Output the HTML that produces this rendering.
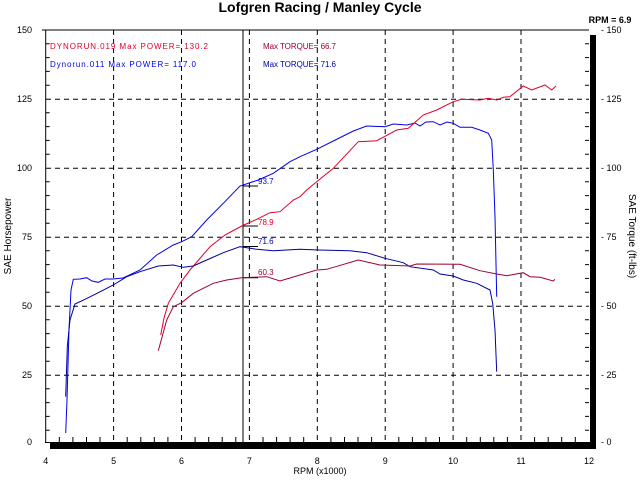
<!DOCTYPE html>
<html><head><meta charset="utf-8"><style>
html,body{margin:0;padding:0;background:#fff;}
svg{display:block;font-family:"Liberation Sans",sans-serif;}
</style></head><body>
<svg width="640" height="480" viewBox="0 0 640 480" xmlns="http://www.w3.org/2000/svg">
<rect width="640" height="480" fill="#fff"/>
<text x="320" y="12" font-size="14" font-weight="bold" text-anchor="middle">Lofgren Racing / Manley Cycle</text>
<text x="610" y="23" font-size="9" font-weight="bold" text-anchor="middle">RPM = 6.9</text>
<g stroke="#000" stroke-width="1" stroke-dasharray="5,4" fill="none">
<line x1="113.6" y1="30" x2="113.6" y2="442"/><line x1="181.5" y1="30" x2="181.5" y2="442"/>
<line x1="249.4" y1="30" x2="249.4" y2="442"/><line x1="317.3" y1="30" x2="317.3" y2="442"/>
<line x1="385.2" y1="30" x2="385.2" y2="442"/><line x1="453.1" y1="30" x2="453.1" y2="442"/>
<line x1="521" y1="30" x2="521" y2="442"/>
<line x1="46" y1="99.3" x2="589" y2="99.3"/><line x1="46" y1="168.3" x2="589" y2="168.3"/>
<line x1="46" y1="237.3" x2="589" y2="237.3"/><line x1="46" y1="306.3" x2="589" y2="306.3"/>
<line x1="46" y1="375.3" x2="589" y2="375.3"/>
</g>
<line x1="45.7" y1="30" x2="45.7" y2="443" stroke="#000"/>
<line x1="42" y1="30" x2="589" y2="30" stroke="#000"/>
<line x1="45" y1="442.5" x2="590" y2="442.5" stroke="#000"/>
<rect x="50" y="443" width="546" height="6" fill="#000"/>
<rect x="590" y="35" width="6" height="414" fill="#000"/>
<g stroke="#000" stroke-width="1">
<path d="M45.7 430.2h4M45.7 416.4h4M45.7 402.6h4M45.7 388.8h4M45.7 361.2h4M45.7 347.4h4M45.7 333.6h4M45.7 319.8h4M45.7 292.2h4M45.7 278.4h4M45.7 264.6h4M45.7 250.8h4M45.7 223.2h4M45.7 209.4h4M45.7 195.6h4M45.7 181.8h4M45.7 154.2h4M45.7 140.4h4M45.7 126.6h4M45.7 112.8h4M45.7 85.2h4M45.7 71.4h4M45.7 57.6h4M45.7 43.8h4"/>
<path d="M589 430.2h-4M589 416.4h-4M589 402.6h-4M589 388.8h-4M589 361.2h-4M589 347.4h-4M589 333.6h-4M589 319.8h-4M589 292.2h-4M589 278.4h-4M589 264.6h-4M589 250.8h-4M589 223.2h-4M589 209.4h-4M589 195.6h-4M589 181.8h-4M589 154.2h-4M589 140.4h-4M589 126.6h-4M589 112.8h-4M589 85.2h-4M589 71.4h-4M589 57.6h-4M589 43.8h-4"/>
<path d="M59.3 442v-5M72.9 442v-5M86.5 442v-5M100 442v-5M127.2 442v-5M140.8 442v-5M154.3 442v-5M167.9 442v-5M195.1 442v-5M208.7 442v-5M222.2 442v-5M235.8 442v-5M263 442v-5M276.6 442v-5M290.1 442v-5M303.7 442v-5M330.9 442v-5M344.5 442v-5M358 442v-5M371.6 442v-5M398.8 442v-5M412.4 442v-5M425.9 442v-5M439.5 442v-5M466.7 442v-5M480.3 442v-5M493.8 442v-5M507.4 442v-5M534.6 442v-5M548.2 442v-5M561.7 442v-5M575.3 442v-5"/>
</g>
<g font-size="9" text-anchor="end">
<text x="32" y="33">150</text><text x="32" y="102">125</text><text x="32" y="171">100</text>
<text x="32" y="240">75</text><text x="32" y="309">50</text><text x="32" y="378">25</text><text x="32" y="445">0</text>
</g>
<g font-size="9">
<text x="601" y="33">- 150</text><text x="601" y="102">- 125</text><text x="601" y="171">- 100</text>
<text x="601" y="240">- 75</text><text x="601" y="309">- 50</text><text x="601" y="378">- 25</text><text x="601" y="445">- 0</text>
</g>
<g font-size="9" text-anchor="middle">
<text x="45.7" y="464">4</text><text x="113.6" y="464">5</text><text x="181.5" y="464">6</text>
<text x="249.4" y="464">7</text><text x="317.3" y="464">8</text><text x="385.2" y="464">9</text>
<text x="453.1" y="464">10</text><text x="521" y="464">11</text><text x="589" y="464">12</text>
<text x="320" y="474">RPM (x1000)</text>
</g>
<text font-size="10" text-anchor="middle" transform="translate(11,236) rotate(-90)">SAE Horsepower</text>
<text font-size="10" text-anchor="middle" transform="translate(629,236) rotate(90)">SAE Torque (ft-lbs)</text>
<g font-size="8">
<text x="50" y="49" fill="#e0002a" textLength="158" lengthAdjust="spacing">DYNORUN.019  Max POWER= 130.2</text>
<text x="263" y="49" fill="#a00030" textLength="73" lengthAdjust="spacing">Max TORQUE= 66.7</text>
<text x="50" y="67" fill="#0000ee" textLength="146" lengthAdjust="spacing">Dynorun.011  Max POWER= 117.0</text>
<text x="263" y="67" fill="#0000a0" textLength="73" lengthAdjust="spacing">Max TORQUE= 71.6</text>
</g>
<line x1="243" y1="30" x2="243" y2="442" stroke="#000"/>
<g stroke="#000"><path d="M243 186h15M243 226h15M243 246.5h15M243 277.7h15"/></g>
<g font-size="8">
<text x="258" y="184" fill="#0000ee">93.7</text><text x="258" y="225" fill="#e0002a">78.9</text>
<text x="258" y="244" fill="#0000a0">71.6</text><text x="258" y="275" fill="#a00030">60.3</text>
</g>
<g fill="none" stroke-width="1">
<polyline stroke="#0000ee" points="65.7,433 67,400 69,330 71,290 73.3,279.3 80,279 86.7,277.7 92,281 98.3,282.3 105,279 113,279 123,278 140,270 156.7,255 173.3,245 181.7,241.7 191.7,236.7 206.7,220 223.3,203.3 240,186 258.3,180 273.3,173.3 290,161.7 300,156.7 316.7,149.3 333.3,141 353.3,131 366.7,126 385,126.7 393.3,124 406.7,125 415,123 420,126 426,122 433.3,121.7 440,125 447,122 453.3,123.3 460,127.3 471.7,127.3 480,130 488.3,133.3 491.7,140 493.3,170 495,216.7 496.7,296.7"/>
<polyline stroke="#e0002a" points="160.7,335 164,318 168.3,303.3 180,283.3 190,270 210,246.7 225,235 241.7,226 256.7,219.3 270,212.7 280,211.7 293.3,200 300,196.7 306.7,190 316.7,181.7 333.3,168.3 358.3,141.7 376.7,140.7 396.7,130 408.3,128.3 423.3,115 436.7,110 453.3,101.7 461.7,99.3 480,100 488.3,98.3 496.7,100 503.3,97.3 510,96.7 523.3,86 531.7,90 545,85 551.7,90 556,86"/>
<polyline stroke="#0000a0" points="65.7,396.7 67.3,346.7 70,320 75,304 85,299.3 98.3,292.7 113.3,285 126.7,276.7 140,271.7 158.3,266 173.3,265 183.3,267.3 193.3,266 206.7,260 223.3,252.7 240,246.7 256.7,249.3 273.3,250.7 300,249.3 318.3,250 350,250.7 366.7,252.7 385,258.3 403.3,262.7 410,266.7 433.3,270 440,274 453.3,276 463.3,280 476.7,283.3 490,290 492.7,303.3 495,330 496.7,371.7"/>
<polyline stroke="#a00030" points="158.3,350.7 166.7,320 173.3,306.7 181.7,302.7 193.3,293.3 213.3,283.3 226.7,280 241.7,277.7 266.7,276.7 280,281 300,275 316.7,270 326.7,269.3 358.3,260 380,265 410,266 416.7,264 460,264.3 480,270.7 496.7,274 506.7,275.7 523.3,272.7 530,276.7 540,277.3 553.3,281 555,279.3"/>
</g>
</svg>
</body></html>
